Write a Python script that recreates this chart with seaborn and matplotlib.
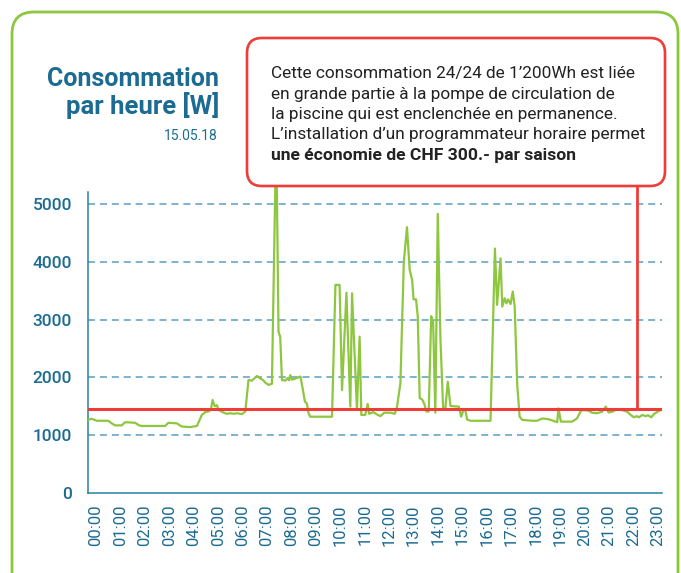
import matplotlib
matplotlib.use("Agg")
import matplotlib.pyplot as plt
from matplotlib.patches import FancyBboxPatch
import seaborn as sns
import pandas as pd

# ---------------- data ----------------
hours = [-0.32, -0.18, 0.03, 0.50, 0.64, 0.78, 1.05, 1.19, 1.60, 1.76, 1.87, 2.83, 2.96, 3.31, 3.51,
         3.85, 4.13, 4.24, 4.33, 4.47, 4.60, 4.70, 4.77, 4.86, 4.95, 5.01, 5.22, 5.36, 5.50, 5.63,
         5.77, 5.97, 6.11, 6.24, 6.38, 6.59, 6.72, 6.83, 6.93, 7.06, 7.20, 7.34, 7.40, 7.47, 7.54,
         7.61, 7.75, 7.85, 7.90, 7.95, 8.02, 8.15, 8.29, 8.37, 8.47, 8.55, 8.63, 8.70, 8.77, 9.66,
         9.80, 9.97, 10.07, 10.25, 10.41, 10.48, 10.68, 10.79, 10.86, 11.02, 11.12, 11.18, 11.35, 11.50, 11.64,
         11.80, 12.05, 12.23, 12.32, 12.46, 12.53, 12.60, 12.73, 12.84, 12.94, 13.00, 13.10, 13.17, 13.25, 13.35,
         13.44, 13.52, 13.62, 13.72, 13.80, 13.89, 13.99, 14.10, 14.21, 14.30, 14.40, 14.51, 14.70, 14.85, 14.95,
         15.03, 15.12, 15.19, 15.33, 16.15, 16.33, 16.42, 16.56, 16.63, 16.73, 16.80, 16.87, 16.97, 17.06, 17.14,
         17.24, 17.34, 17.45, 17.86, 18.06, 18.27, 18.54, 18.81, 18.88, 18.93, 19.03, 19.49, 19.69, 19.83, 19.90,
         20.16, 20.30, 20.50, 20.71, 20.87, 20.98, 21.12, 21.34, 21.54, 21.75, 21.89, 22.02, 22.13, 22.23, 22.36,
         22.50, 22.60, 22.73, 22.84, 22.98, 23.11]
watts = [1265, 1285, 1250, 1250, 1205, 1170, 1170, 1225, 1215, 1170, 1160, 1160, 1215, 1205, 1150,
         1140, 1160, 1265, 1350, 1400, 1410, 1440, 1610, 1500, 1520, 1440, 1390, 1370, 1380, 1370,
         1380, 1365, 1410, 1955, 1945, 2025, 1985, 1955, 1910, 1870, 1890, 5350, 5350, 2790, 2700,
         1955, 1945, 1990, 1950, 2040, 1960, 1980, 2000, 2015, 1780, 1580, 1550, 1380, 1320, 1320,
         3600, 3600, 1780, 3465, 1495, 3455, 1450, 2705, 1350, 1350, 1540, 1370, 1400, 1360, 1330,
         1390, 1390, 1370, 1490, 1900, 2935, 4000, 4600, 3860, 3685, 3350, 3350, 3060, 1640, 1620,
         1540, 1410, 1410, 3060, 2965, 1390, 4830, 2650, 1465, 1465, 1925, 1505, 1500, 1495, 1320,
         1425, 1435, 1270, 1250, 1250, 4230, 3255, 4060, 3225, 3370, 3280, 3350, 3270, 3485, 3225,
         1900, 1320, 1265, 1250, 1250, 1290, 1275, 1235, 1225, 1465, 1235, 1235, 1290, 1405, 1435,
         1425, 1390, 1380, 1405, 1495, 1395, 1405, 1450, 1435, 1405, 1350, 1310, 1330, 1310, 1350,
         1330, 1345, 1310, 1365, 1405, 1435]
baseline_w = 1450
hour_ticks = list(range(24))
hour_labels = [f"{h:02d}:00" for h in hour_ticks]
watt_ticks = [0, 1000, 2000, 3000, 4000, 5000]
watt_labels = [str(v) for v in watt_ticks]

title_lines = ["Consommation", "par heure [W]"]
date_label = "15.05.18"
note_lines = ["Cette consommation 24/24 de 1\u2019200Wh est liée",
              "en grande partie à la pompe de circulation de",
              "la piscine qui est enclenchée en permanence.",
              "L\u2019installation d\u2019un programmateur horaire permet"]
note_bold = "une économie de CHF 300.- par saison"

# ---------------- style ----------------
sns.set_theme(style="white")
plt.rcParams["font.family"] = ["Roboto", "DejaVu Sans"]

GREEN = "#8dc63f"
RED = "#ee3d38"
TEAL = "#1b6b92"
SPINE = "#2a7fa8"
GRID = "#5b9ec0"

W, H = 681, 573
fig = plt.figure(figsize=(W / 100, H / 100), dpi=100)
fig.patch.set_facecolor("white")


def px(x, y):
    return x / 100, (H - y) / 100


ax_l, ax_r, ax_t, ax_b = 88, 662, 192, 493
ax = fig.add_axes([ax_l / W, (H - ax_b) / H, (ax_r - ax_l) / W, (ax_b - ax_t) / H])
ax.set_facecolor("none")

df = pd.DataFrame({"hour": hours, "watts": watts})
sns.lineplot(data=df, x="hour", y="watts", ax=ax, color=GREEN, linewidth=1.6,
             estimator=None, clip_on=False, zorder=3)

ax.axhline(baseline_w, color=RED, linewidth=2.2, zorder=4)
# connector from the baseline up to the note box
ax.plot([22.15, 22.15], [baseline_w, 5330], color=RED, linewidth=2.0,
        clip_on=False, zorder=4)

ax.set_xlim(-0.33, 23.17)
ax.set_ylim(0, 5208)

ax.set_yticks(watt_ticks)
ax.set_yticklabels(watt_labels, color=TEAL, fontsize=12.5, fontweight="medium")
ax.set_xticks(hour_ticks)
ax.set_xticklabels(hour_labels, rotation=90, color=TEAL, fontsize=12)
ax.tick_params(axis="y", length=4, width=1.1, color=GRID, pad=7.5, direction="out")
ax.tick_params(axis="x", length=0, pad=8)
ax.set_xlabel("")
ax.set_ylabel("")

for v in watt_ticks[1:]:
    ax.axhline(v, color=GRID, linewidth=1.1, linestyle=(0, (4.6, 3.2)), zorder=1)

for side in ("top", "right"):
    ax.spines[side].set_visible(False)
for side in ("left", "bottom"):
    ax.spines[side].set_color(SPINE)
    ax.spines[side].set_linewidth(1.1)

tr = fig.dpi_scale_trans

# outer green frame
x0, y0 = px(12, 605)
frame = FancyBboxPatch((x0, y0), (678 - 12) / 100, (605 - 12) / 100,
                       boxstyle="round,pad=0,rounding_size=0.22",
                       transform=tr, facecolor="none", edgecolor=GREEN,
                       linewidth=2.0, zorder=0)
fig.patches.append(frame)

# note box
bx0, by0 = px(247, 186)
box = FancyBboxPatch((bx0, by0), (665 - 247) / 100, (186 - 38) / 100,
                     boxstyle="round,pad=0,rounding_size=0.15",
                     transform=tr, facecolor="white", edgecolor=RED,
                     linewidth=1.9, zorder=5)
fig.patches.append(box)

baselines = [78, 98.5, 119, 139.5]
for line, yb in zip(note_lines, baselines):
    fig.text(*px(271, yb), line, transform=tr, fontsize=12.4, color="#222222",
             ha="left", va="baseline", zorder=6)
fig.text(*px(271, 160), note_bold, transform=tr, fontsize=12.6, color="#222222",
         fontweight="bold", ha="left", va="baseline", zorder=6)

# title
fig.text(*px(219, 86), title_lines[0], transform=tr, fontsize=18, fontweight="bold",
         color=TEAL, ha="right", va="baseline")
fig.text(*px(219, 114), title_lines[1], transform=tr, fontsize=18.5, fontweight="bold",
         color=TEAL, ha="right", va="baseline")
fig.text(*px(218, 140), date_label, transform=tr, fontsize=10, color=TEAL,
         ha="right", va="baseline")

fig.savefig("out.png", dpi=100)
